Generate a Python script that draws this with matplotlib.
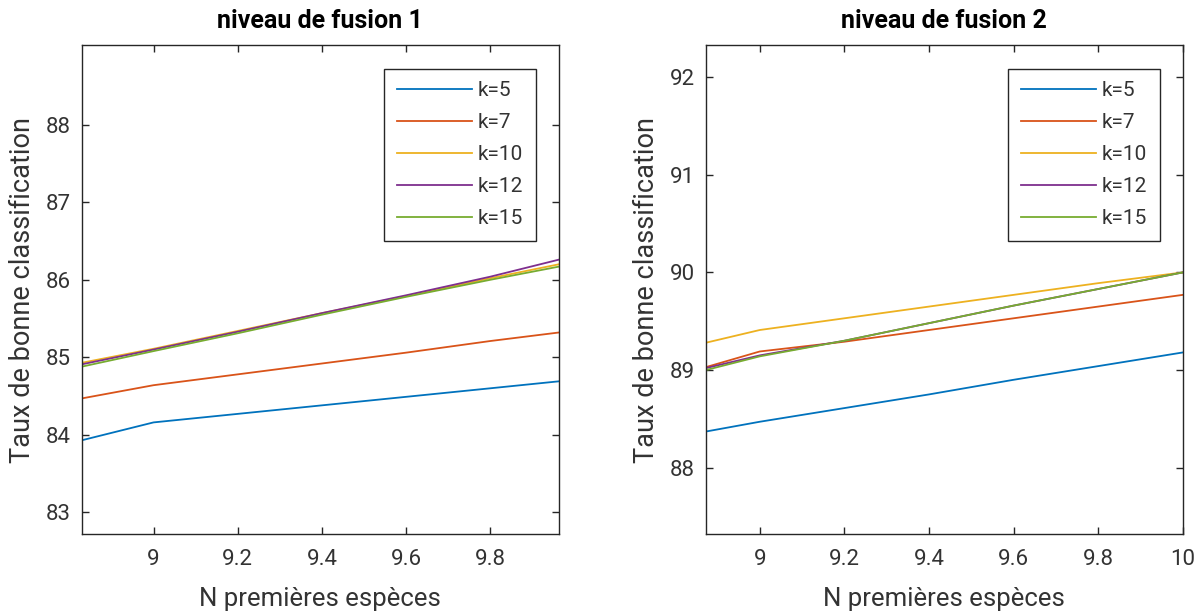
import numpy as np
import matplotlib
matplotlib.use("Agg")
import matplotlib.pyplot as plt

plt.rcParams['font.family'] = ['Roboto', 'DejaVu Sans']

x_left = [8.83, 9.0, 9.2, 9.4, 9.6, 9.8, 9.963]
x_right = [8.873, 9.0, 9.2, 9.4, 9.6, 9.8, 10.0]

labels = ['k=5', 'k=7', 'k=10', 'k=12', 'k=15']

# niveau de fusion 1
f1_k5 = [83.93, 84.16, 84.27, 84.38, 84.49, 84.60, 84.69]
f1_k7 = [84.47, 84.64, 84.78, 84.92, 85.06, 85.21, 85.32]
f1_k10 = [84.93, 85.11, 85.34, 85.57, 85.79, 86.02, 86.20]
f1_k12 = [84.91, 85.10, 85.33, 85.57, 85.80, 86.04, 86.26]
f1_k15 = [84.88, 85.08, 85.31, 85.55, 85.78, 86.00, 86.17]

# niveau de fusion 2
f2_k5 = [88.37, 88.47, 88.61, 88.75, 88.90, 89.04, 89.18]
f2_k7 = [89.03, 89.19, 89.29, 89.41, 89.53, 89.65, 89.77]
f2_k10 = [89.28, 89.41, 89.53, 89.65, 89.77, 89.89, 90.00]
f2_k12 = [89.02, 89.15, 89.30, 89.48, 89.66, 89.83, 90.00]
f2_k15 = [89.00, 89.14, 89.30, 89.48, 89.66, 89.83, 90.00]

xticks_left = [9, 9.2, 9.4, 9.6, 9.8]
xticks_right = [9, 9.2, 9.4, 9.6, 9.8, 10]

colors = ['#0072BD', '#D95319', '#EDB120', '#7E2F8E', '#77AC30']
axcol = '#262626'
txtcol = '#333333'


def style_axes(ax, xlim, ylim, xticks, yticks):
    ax.set_xlim(*xlim)
    ax.set_ylim(*ylim)
    ax.set_xticks(xticks)
    ax.set_xticklabels(['%g' % t for t in xticks])
    ax.set_yticks(yticks)
    ax.tick_params(direction='in', length=5, width=1, color=axcol,
                   labelcolor=txtcol, labelsize=16, top=True, right=True)
    ax.tick_params(axis='x', pad=11)
    ax.tick_params(axis='y', pad=8)
    for s in ax.spines.values():
        s.set_color(axcol)
        s.set_linewidth(1.0)
    ax.set_xlabel('N premières espèces', fontsize=18.5, color=txtcol, labelpad=12)
    ax.set_ylabel('Taux de bonne classification', fontsize=19.5, color=txtcol, labelpad=7)


fig = plt.figure(figsize=(12.04, 6.14), dpi=100)
ax1 = fig.add_axes([0.0681, 0.1303, 0.396, 0.7964])
ax2 = fig.add_axes([0.5864, 0.1303, 0.396, 0.7964])

for ax, xs, series in [(ax1, x_left, [f1_k5, f1_k7, f1_k10, f1_k12, f1_k15]),
                       (ax2, x_right, [f2_k5, f2_k7, f2_k10, f2_k12, f2_k15])]:
    for ys, c, lab in zip(series, colors, labels):
        ax.plot(xs, ys, color=c, lw=1.3, label=lab)
    leg = ax.legend(loc='upper right', bbox_to_anchor=(0.952, 0.951), borderaxespad=0,
                    fontsize=15, frameon=True, fancybox=False, handlelength=3.6,
                    handletextpad=0.3, labelspacing=0.62, borderpad=0.6,
                    framealpha=1)
    leg.get_frame().set_edgecolor(axcol)
    leg.get_frame().set_linewidth(1.0)
    for t in leg.get_texts():
        t.set_color(txtcol)

style_axes(ax1, (8.83, 9.963), (82.72, 89.03), xticks_left, [83, 84, 85, 86, 87, 88])
style_axes(ax2, (8.873, 10.0), (87.32, 92.33), xticks_right, [88, 89, 90, 91, 92])

ax1.set_title('niveau de fusion 1', fontsize=18, fontweight='bold', pad=12)
ax2.set_title('niveau de fusion 2', fontsize=18, fontweight='bold', pad=12)

fig.savefig('out.png', dpi=100)
